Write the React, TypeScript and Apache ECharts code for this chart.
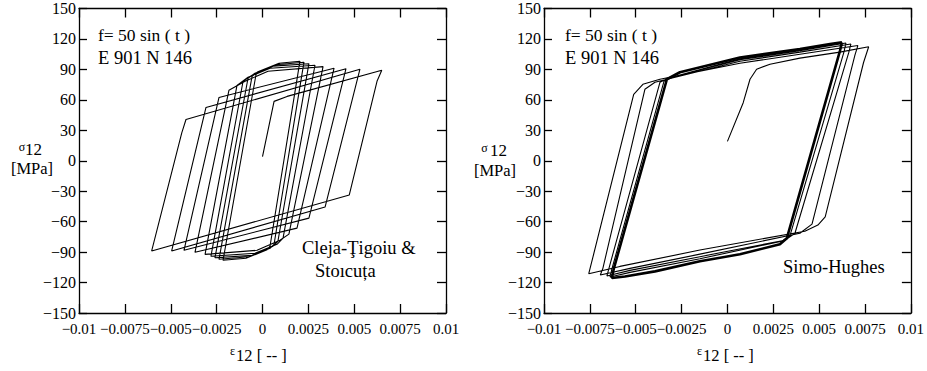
import React, { useEffect, useRef } from "react";
import * as echarts from "echarts";

const xTickLabels = ["−0.01", "−0.0075", "−0.005", "−0.0025", "0", "0.0025", "0.005", "0.0075", "0.01"];
const yTickLabels = ["−150", "−120", "−90", "−60", "−30", "0", "30", "60", "90", "120", "150"];

// Cleja-Ţigoiu & Stoicuța model: strain / stress path
const clejaPath: [number, number][] = [
  [0.0, 4.0], [0.00063, 58.5], [0.00134, 63.4],
  [0.0065, 89.2], [0.00624, 78.3], [0.00473, -33.7], [-0.00604, -88.9], [-0.0044, 27.5], [-0.00417, 40.6],
  [0.00531, 90.2], [0.00341, -45.6], [-0.00495, -88.9], [-0.00308, 52.5],
  [0.00455, 90.7], [0.00253, -56.5], [-0.00428, -88.2], [-0.00237, 62.4],
  [0.0039, 91.2], [0.00188, -66.4], [-0.00368, -90.2], [-0.00183, 69.4],
  [-0.00095, 78.3], [0.0003, 88.2], [0.0033, 92.7], [0.00144, -72.3], [0.00095, -78.3], [-0.0003, -88.2], [-0.00313, -92.2], [-0.00139, 74.3],
  [-0.00079, 82.2], [0.00041, 91.2], [0.00286, 94.1], [0.00112, -76.3], [0.00079, -82.3], [-0.00041, -91.2], [-0.00281, -94.1], [-0.00106, 78.3],
  [-0.00057, 84.2], [0.00057, 93.2], [0.00253, 95.6], [0.00084, -79.3], [0.00057, -84.2], [-0.00057, -93.2], [-0.00259, -95.6], [-0.00079, 81.3],
  [-0.00041, 86.2], [0.00074, 94.6], [0.00226, 97.1], [0.00063, -82.3], [0.00041, -86.2], [-0.00074, -94.6], [-0.00237, -97.1], [-0.00057, 83.2],
  [-0.00025, 87.7], [0.0009, 96.1], [0.00204, 98.1], [0.00041, -84.2], [0.00025, -87.7], [-0.0009, -96.1], [-0.00215, -98.1], [-0.00035, 85.2],
  [-0.00003, 89.2], [0.00095, 96.1],
];

// Simo-Hughes model: transient cycles
const simoTransient: [number, number][] = [
  [0.0, 19.1], [0.00086, 57.2], [0.00123, 80.3], [0.00159, 90.2], [0.00232, 95.1], [0.00395, 101.1], [0.00613, 107.0],
  [0.0077, 112.3], [0.00742, 96.8], [0.00533, -55.2], [0.00493, -63.4], [0.00422, -69.4], [-0.0015, -88.0], [-0.00586, -104.1],
  [-0.00756, -111.3], [-0.00511, 65.4], [-0.00461, 75.3], [-0.00368, 80.3], [0.00068, 96.0], [0.00395, 105.0],
  [0.00711, 113.5], [0.00695, 104.1], [0.00461, -62.4], [0.00395, -71.4], [-0.0015, -92.0], [-0.00531, -106.0],
  [-0.00693, -112.5], [-0.00679, -106.0], [-0.0045, 70.4], [-0.00395, 77.3], [0.00068, 98.0], [0.00395, 107.0],
  [0.00673, 115.0], [0.00662, 107.0], [0.00368, -71.4], [0.00313, -78.3], [-0.0015, -94.5], [-0.00531, -108.0],
  [-0.00657, -113.5], [-0.00646, -106.0], [-0.00368, 77.3], [-0.00324, 81.3], [0.00068, 99.5], [0.00395, 108.5],
  [0.00646, 116.0], [0.00635, 107.0], [0.00341, -73.8], [0.00297, -79.3], [-0.0015, -96.5], [-0.00531, -110.0],
  [-0.0064, -114.5], [-0.00629, -106.0], [-0.00346, 78.3], [-0.0031, 82.0], [0.00068, 100.5], [0.00395, 109.3],
  [0.00624, 116.6],
];

// Simo-Hughes model: stabilised cycle (drawn many times in the original)
const simoStable: [number, number][] = [
  [0.00624, 116.6], [0.00613, 108.0], [0.00324, -76.3], [0.00286, -82.2], [0.00068, -92.2], [-0.0015, -99.1],
  [-0.00395, -109.0], [-0.00559, -114.0], [-0.0063, -115.5], [-0.00619, -106.0], [-0.0033, 80.3], [-0.00259, 87.2],
  [0.00068, 101.8], [0.00395, 110.0], [0.00559, 115.0], [0.00624, 116.6],
];

const FONT = "'Liberation Serif', 'Times New Roman', serif";

export default function App() {
  const ref = useRef<HTMLDivElement>(null);
  useEffect(() => {
    if (!ref.current) return;
    const chart = echarts.init(ref.current, undefined, { renderer: "svg" });
    const gridTop = 8.5;
    const gridH = 304.5;
    const grids = [
      { left: 79, top: gridTop, width: 367, height: gridH },
      { left: 544, top: gridTop, width: 367, height: gridH },
    ];
    const axisLine = { show: true, onZero: false, lineStyle: { color: "#000", width: 1.3 } };
    const xAxes: any[] = [];
    const yAxes: any[] = [];
    grids.forEach((_, i) => {
      xAxes.push({
        type: "value", gridIndex: i, min: -0.01, max: 0.01, interval: 0.0025, position: "bottom",
        axisLine, splitLine: { show: false },
        axisTick: { show: true, inside: true, length: 9, lineStyle: { color: "#000", width: 1.3 } },
        axisLabel: {
          show: true, interval: 0, showMinLabel: true, showMaxLabel: true, hideOverlap: false, margin: 8,
          color: "#000", fontFamily: FONT, fontSize: 15,
          formatter: (v: number) => xTickLabels[Math.round((v + 0.01) / 0.0025)] ?? "",
        },
      });
      xAxes.push({
        type: "value", gridIndex: i, min: -0.01, max: 0.01, interval: 0.0025, position: "top",
        axisLine, splitLine: { show: false },
        axisTick: { show: true, inside: true, length: 9, lineStyle: { color: "#000", width: 1.3 } },
        axisLabel: { show: false },
      });
      yAxes.push({
        type: "value", gridIndex: i, min: -150, max: 150, interval: 30, position: "left",
        axisLine, splitLine: { show: false },
        axisTick: { show: true, inside: true, length: 8, lineStyle: { color: "#000", width: 1.3 } },
        axisLabel: {
          show: true, showMinLabel: true, showMaxLabel: true, margin: 3,
          color: "#000", fontFamily: FONT, fontSize: 16,
          formatter: (v: number) => yTickLabels[Math.round((v + 150) / 30)] ?? "",
        },
      });
      yAxes.push({
        type: "value", gridIndex: i, min: -150, max: 150, interval: 30, position: "right",
        axisLine, splitLine: { show: false },
        axisTick: { show: true, inside: true, length: 9, lineStyle: { color: "#000", width: 1.3 } },
        axisLabel: { show: false },
      });
    });

    const t = (text: string, x: number, y: number, size: number, align = "left") => ({
      type: "text", x, y, silent: true,
      style: {
        text, fill: "#000", fontFamily: FONT, fontSize: size,
        align, verticalAlign: "middle", textAlign: align, textVerticalAlign: "middle",
      },
    });

    const lineSeries = (data: [number, number][], xi: number, yi: number, w: number) => ({
      type: "line", data, xAxisIndex: xi, yAxisIndex: yi, showSymbol: false, symbol: "none",
      lineStyle: { color: "#000", width: w }, silent: true, clip: true,
    });

    chart.setOption({
      animation: false,
      backgroundColor: "#fff",
      grid: grids,
      xAxis: xAxes,
      yAxis: yAxes,
      series: [
        lineSeries(clejaPath, 0, 0, 1.1),
        lineSeries(simoTransient, 2, 2, 1.1),
        lineSeries(simoStable, 2, 2, 2.6),
      ],
      graphic: [
        t("f= 50 sin ( t )", 98, 35, 17.5),
        t("E 901 N 146", 98, 57.5, 18.5),
        t("Cleja-Ţigoiu &", 302, 248, 18.5),
        t("Stoıcuța", 315, 271, 18.5),
        t("σ", 22, 147, 12, "center"),
        t("12", 25, 149.5, 17),
        t("[MPa]", 32, 168, 16.5, "center"),
        t("ε", 232.5, 351, 12, "center"),
        t("12 [ -- ]", 236, 355.5, 16.5),
        t("f= 50 sin ( t )", 565, 35, 17.5),
        t("E 901 N 146", 565, 57.5, 18.5),
        t("Simo-Hughes", 783, 267, 18.5),
        t("σ", 484.5, 148, 12, "center"),
        t("12", 490, 150.5, 17),
        t("[MPa]", 495, 170.5, 16.5, "center"),
        t("ε", 699.5, 351, 12, "center"),
        t("12 [ -- ]", 703, 355.5, 16.5),
      ],
    });
    return () => chart.dispose();
  }, []);
  return (
    <div
      ref={ref}
      style={{ position: "fixed", left: 0, top: 0, width: 927, height: 371, background: "#fff" }}
    />
  );
}
